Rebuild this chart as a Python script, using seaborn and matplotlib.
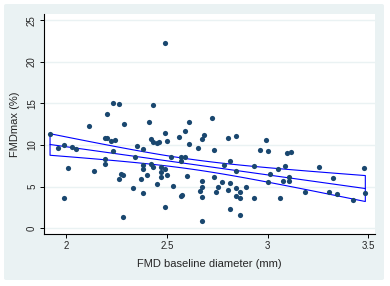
import numpy as np
import pandas as pd
import matplotlib
matplotlib.use("Agg")
import matplotlib.pyplot as plt
from matplotlib.patches import FancyBboxPatch
import seaborn as sns

# baseline diameter (mm) and FMDmax (%)
diameter = [1.921, 1.960, 1.990, 2.030, 2.050, 2.012, 1.990, 2.113, 2.141, 2.192,
            2.202, 2.232, 2.262, 2.202, 2.222, 2.243, 2.232, 2.192, 2.192, 2.290,
            2.273, 2.283, 2.262, 2.281, 2.432, 2.412, 2.612, 2.491, 2.592, 2.562,
            2.422, 2.432, 2.452, 2.462, 2.503, 2.612, 2.673, 2.683, 2.653, 2.352,
            2.382, 2.342, 2.382, 2.382, 2.422, 2.432, 2.471, 2.491, 2.471, 2.471,
            2.503, 2.523, 2.572, 2.592, 2.572, 2.372, 2.402, 2.602, 2.333, 2.452,
            2.533, 2.382, 2.572, 2.575, 2.491, 2.673, 2.673, 2.663, 2.673, 2.673,
            2.491, 2.725, 2.804, 2.844, 2.994, 2.735, 2.964, 3.004, 3.095, 3.115,
            2.814, 2.784, 2.844, 2.935, 3.014, 3.054, 3.085, 2.735, 2.774, 2.814,
            2.754, 2.744, 2.804, 2.844, 2.864, 2.893, 2.844, 2.864, 2.935, 3.004,
            3.075, 3.105, 3.105, 3.064, 2.814, 2.864, 3.256, 3.476, 3.325, 3.186,
            3.305, 3.345, 3.426, 3.485]
fmdmax = [11.37, 9.69, 10.0, 9.73, 9.53, 7.21, 3.6, 12.3, 6.92, 10.8,
          10.8, 15.0, 14.9, 13.7, 10.45, 10.58, 9.29, 8.33, 7.77, 12.5,
          6.53, 6.41, 5.93, 1.39, 14.8, 12.74, 12.78, 11.42, 11.73, 10.97,
          10.77, 10.34, 10.2, 10.34, 10.53, 10.1, 10.77, 11.18, 9.6, 9.85,
          9.49, 8.53, 7.6, 7.16, 7.73, 7.4, 7.4, 7.16, 6.8, 6.13,
          6.37, 8.53, 8.57, 8.53, 8.05, 5.96, 6.37, 6.25, 4.81, 5.29,
          5.08, 4.2, 3.9, 4.05, 2.56, 5.65, 4.93, 4.48, 3.76, 0.91,
          22.3, 13.3, 10.8, 11.06, 10.58, 9.38, 9.38, 9.25, 9.01, 9.21,
          8.05, 7.61, 6.92, 7.49, 6.53, 7.09, 7.49, 6.13, 5.57, 5.48,
          5.0, 4.4, 4.6, 4.84, 4.36, 4.96, 3.92, 3.64, 3.6, 5.57,
          5.72, 6.13, 5.65, 3.6, 2.32, 1.6, 7.33, 7.21, 6.0, 4.33,
          4.33, 4.16, 3.37, 4.28]

xticks = [2, 2.5, 3, 3.5]
yticks = [0, 5, 10, 15, 20, 25]

df = pd.DataFrame({"diameter": diameter, "fmdmax": fmdmax})

sns.set_style("white")
plt.rcParams["font.family"] = ["Liberation Sans", "DejaVu Sans"]

fig = plt.figure(figsize=(3.9, 2.86), dpi=100)
fig.patch.set_facecolor("white")
# stata-like light graph region
bg = FancyBboxPatch((4 / 390, 6 / 286), 380 / 390, 276 / 286,
                    boxstyle="round,pad=0,rounding_size=0.006",
                    transform=fig.transFigure, facecolor="#EAF2F3",
                    edgecolor="none")
bg.set_zorder(-10)
fig.add_artist(bg)
ax = fig.add_axes([44 / 390, 52 / 286, 331 / 390, 220 / 286])
ax.set_facecolor("white")

# linear fit + 95% CI of the mean
x = df["diameter"].to_numpy()
y = df["fmdmax"].to_numpy()
n = len(x)
b, a = np.polyfit(x, y, 1)
resid = y - (a + b * x)
s = np.sqrt(np.sum(resid ** 2) / (n - 2))
xg = np.linspace(x.min(), x.max(), 100)
yg = a + b * xg
se = s * np.sqrt(1 / n + (xg - x.mean()) ** 2 / np.sum((x - x.mean()) ** 2))
lo, hi = yg - 1.98 * se, yg + 1.98 * se

ax.fill_between(xg, lo, hi, facecolor="none", edgecolor="#0000FF", linewidth=0.8, zorder=3)
sns.regplot(data=df, x="diameter", y="fmdmax", ax=ax, scatter=False, ci=None,
            truncate=True, line_kws={"color": "#0000FF", "linewidth": 0.8, "zorder": 3})
sns.scatterplot(data=df, x="diameter", y="fmdmax", ax=ax, color="#1A476F",
                s=14, linewidth=0, zorder=4)

ax.set_xlim(1.891, 3.533)
ax.set_ylim(-0.69, 25.76)
ax.set_xticks(xticks)
ax.set_xticklabels(["2", "2.5", "3", "3.5"])
ax.set_yticks(yticks)
ax.set_yticklabels([str(t) for t in yticks], rotation=90, va="center")
for t in yticks:
    ax.axhline(t, color="#EAF2F3", linewidth=1.0, zorder=1)

for side in ["top", "right"]:
    ax.spines[side].set_visible(False)
for side in ["left", "bottom"]:
    ax.spines[side].set_color("black")
    ax.spines[side].set_linewidth(0.8)
ax.tick_params(axis="both", direction="out", length=3, width=0.7, color="black",
               labelsize=7, pad=2, left=True, bottom=True)

ax.set_xlabel("FMD baseline diameter (mm)", fontsize=8, labelpad=6)
ax.set_ylabel("FMDmax (%)", fontsize=8, labelpad=5)

plt.savefig("out.png", dpi=100)
